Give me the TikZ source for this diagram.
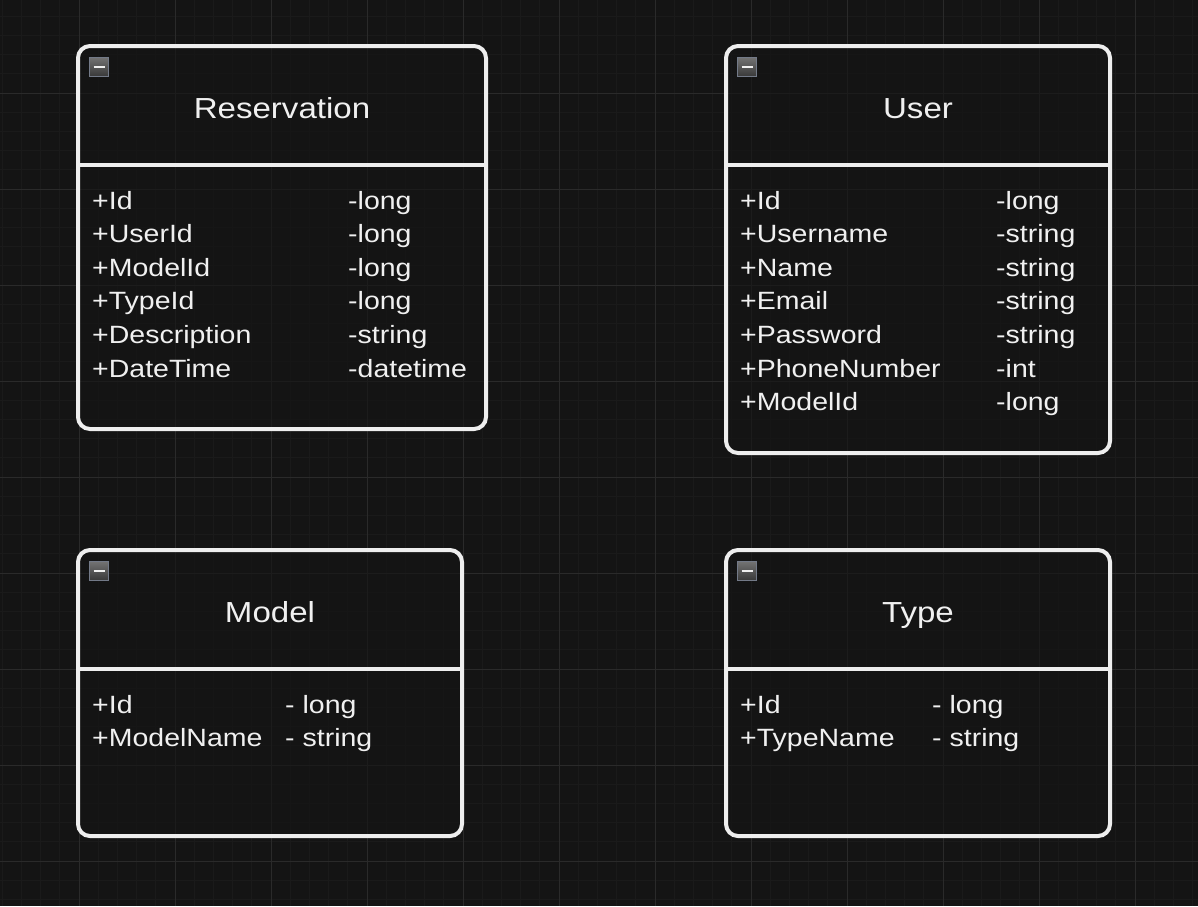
\documentclass[tikz,border=0pt]{standalone}
\usepackage{fontspec}
\setmainfont{Liberation Sans}[FakeStretch=1.14]
\definecolor{canvas}{HTML}{141414}
\definecolor{gridminor}{HTML}{1A1A1A}
\definecolor{gridmajor}{HTML}{2A2A2A}
\definecolor{boxline}{HTML}{EEEEEE}
\definecolor{boxtext}{HTML}{F0F0F0}
\definecolor{togglerim}{HTML}{737A88}
\tikzset{
	classbox/.style={draw=boxline, line width=4pt, rounded corners=12pt, fill=canvas, fill opacity=0.6, anchor=north west, outer sep=0pt, inner sep=0pt},
	divider/.style={draw=boxline, line width=4pt},
	classtitle/.style={text=boxtext, font=\fontsize{29}{34}\selectfont, anchor=base, inner sep=0pt},
	attr/.style={text=boxtext, font=\fontsize{25}{29}\selectfont, anchor=base west, inner sep=0pt},
	toggle/.style={draw=togglerim, line width=1.5pt, minimum size=19pt, inner sep=0pt, top color=black!55, bottom color=black!78,
		path picture={\draw[boxtext, line width=2pt] ([xshift=4pt]path picture bounding box.west) -- ([xshift=-4pt]path picture bounding box.east);}}
}
\begin{document}
\begin{tikzpicture}[x=1pt,y=-1pt]
	% background and grid
	\fill[canvas] (0,0) rectangle (1198,906);
	\useasboundingbox (0,0) rectangle (1198,906);
	\foreach \i in {-5,...,58} \draw[gridminor, line width=0.8pt] (79+19.2*\i,0) -- (79+19.2*\i,906);
	\foreach \i in {-5,...,43} \draw[gridminor, line width=0.8pt] (0,93+19.2*\i) -- (1198,93+19.2*\i);
	\foreach \i in {-1,...,12} \draw[gridmajor, line width=1pt] (79+96*\i,0) -- (79+96*\i,906);
	\foreach \i in {-1,...,9} \draw[gridmajor, line width=1pt] (0,93+96*\i) -- (1198,93+96*\i);

	% class boxes
	\node[classbox, minimum width=408pt, minimum height=383pt] (reservation) at (78,46) {};
	\node[classbox, minimum width=384pt, minimum height=407pt] (user) at (726,46) {};
	\node[classbox, minimum width=384pt, minimum height=286pt] (model) at (78,550) {};
	\node[classbox, minimum width=384pt, minimum height=286pt] (type) at (726,550) {};

	\foreach \cls/\title in {reservation/Reservation, user/User, model/Model, type/Type} {
		\draw[divider] ([yshift=-119pt]\cls.north west) -- ([yshift=-119pt]\cls.north east);
		\node[classtitle] (\cls-title) at ([yshift=-72pt]\cls.north) {\title};
		\node[toggle] (\cls-toggle) at ([xshift=21pt,yshift=-21pt]\cls.north west) {};
	}

	% attributes
	\foreach \name/\kind [count=\i from 0] in {+Id/-long, +UserId/-long, +ModelId/-long, +TypeId/-long, +Description/-string, +DateTime/-datetime} {
		\node[attr] (reservation-name-\i) at (92,209+33.6*\i) {\name};
		\node[attr] (reservation-kind-\i) at (348,209+33.6*\i) {\kind};
	}
	\foreach \name/\kind [count=\i from 0] in {+Id/-long, +Username/-string, +Name/-string, +Email/-string, +Password/-string, +PhoneNumber/-int, +ModelId/-long} {
		\node[attr] (user-name-\i) at (740,209+33.6*\i) {\name};
		\node[attr] (user-kind-\i) at (996,209+33.6*\i) {\kind};
	}
	\foreach \name/\kind [count=\i from 0] in {+Id/- long, +ModelName/- string} {
		\node[attr] (model-name-\i) at (92,713+33.6*\i) {\name};
		\node[attr] (model-kind-\i) at (285,713+33.6*\i) {\kind};
	}
	\foreach \name/\kind [count=\i from 0] in {+Id/- long, +TypeName/- string} {
		\node[attr] (type-name-\i) at (740,713+33.6*\i) {\name};
		\node[attr] (type-kind-\i) at (932,713+33.6*\i) {\kind};
	}
\end{tikzpicture}
\end{document}
